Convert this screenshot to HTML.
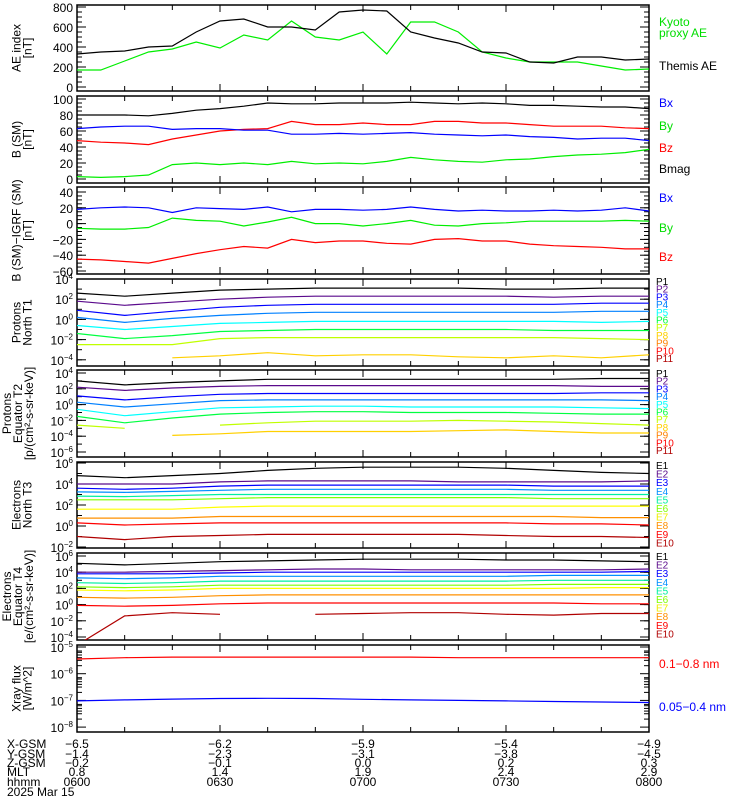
<!DOCTYPE html>
<html><head><meta charset="utf-8">
<style>
html,body{margin:0;padding:0;background:#fff;}
svg{display:block;font-family:"Liberation Sans",sans-serif;}
.t{font-size:12px;}
.s{font-size:10px;}
</style></head>
<body>
<svg id="chart" width="750" height="800" viewBox="0 0 750 800" xmlns="http://www.w3.org/2000/svg">
<g id="frames"></g><g id="series"></g><g id="labels"></g>
</svg>
<script>
// ---------- data ----------
const times5 = ["0600","0605","0610","0615","0620","0625","0630","0635","0640","0645","0650","0655","0700","0705","0710","0715","0720","0725","0730","0735","0740","0745","0750","0755","0800"];
const themisAE = [330,350,360,400,410,550,660,680,600,600,570,750,770,760,550,490,440,350,340,250,240,300,300,270,280];
const kyotoAE = [170,170,260,350,380,450,390,520,470,660,500,470,550,330,650,650,550,350,290,250,250,250,210,170,180];
const bmag = [80,80,80,79,82,86,88,91,95,94,94,95,95,95,96,95,94,95,94,92,92,91,90,90,88];
const bzSM = [48,46,45,43,50,55,60,62,63,72,68,68,70,68,68,72,72,70,70,68,66,66,66,64,63];
const bxSM = [63,65,66,66,62,63,63,61,61,56,56,57,56,57,58,56,55,54,55,53,52,50,51,51,48];
const bySM = [3,2,3,5,18,20,18,20,18,22,19,20,19,22,27,24,22,21,24,25,28,30,31,33,37];
const dBx = [18,20,21,20,14,20,19,18,21,15,18,18,17,18,21,18,16,17,16,16,17,16,17,20,16];
const dBy = [-6,-7,-7,-5,7,4,3,-3,2,8,0,0,-3,0,4,-2,-3,0,1,3,3,3,3,4,3];
const dBz = [-45,-46,-48,-50,-44,-38,-33,-29,-31,-20,-24,-22,-22,-25,-26,-20,-19,-22,-22,-26,-28,-29,-30,-32,-32];

const times10 = ["0600","0610","0620","0630","0640","0650","0700","0710","0720","0730","0740","0750","0800"];
const pT1 = [
 [2.6,2.3,2.6,2.9,3.0,3.1,3.1,3.1,3.1,3.0,3.0,3.1,3.1],
 [1.8,1.4,1.7,2.0,2.2,2.3,2.3,2.3,2.3,2.3,2.2,2.3,2.3],
 [0.9,0.4,0.8,1.2,1.4,1.5,1.5,1.5,1.5,1.5,1.5,1.6,1.6],
 [0.2,-0.3,0.1,0.4,0.6,0.7,0.7,0.7,0.7,0.7,0.7,0.8,0.8],
 [-0.6,-1.0,-0.7,-0.4,-0.3,-0.2,-0.2,-0.2,-0.2,-0.2,-0.2,-0.3,-0.2],
 [-1.4,-1.9,-1.6,-1.2,-1.1,-1.0,-1.0,-1.0,-1.0,-1.0,-1.1,-1.1,-1.1],
 [-2.5,-2.5,-2.5,-1.9,-1.8,-1.8,-1.8,-1.8,-1.8,-1.8,-1.8,-1.9,-2.0],
 [null,null,-3.8,-3.6,-3.3,-3.6,-3.5,-3.5,-3.7,-3.8,-3.6,-3.8,-3.5]
];
const pT2 = [
 [3.0,2.5,2.8,3.0,3.2,3.2,3.2,3.2,3.2,3.2,3.2,3.3,3.3],
 [2.2,1.8,2.1,2.3,2.4,2.4,2.4,2.4,2.4,2.4,2.4,2.3,2.3],
 [1.1,0.6,1.0,1.3,1.4,1.4,1.4,1.4,1.4,1.4,1.4,1.5,1.5],
 [0.3,-0.3,0.1,0.5,0.6,0.6,0.6,0.6,0.6,0.6,0.6,0.6,0.5],
 [-0.6,-1.4,-0.9,-0.4,-0.3,-0.2,-0.2,-0.3,-0.3,-0.3,-0.3,-0.4,-0.5],
 [-1.5,-2.3,-1.7,-1.2,-1.0,-0.9,-0.9,-1.0,-1.0,-1.0,-1.1,-1.2,-1.2],
 [-2.6,-3.0,null,-2.6,-2.3,-2.1,-2.1,-2.1,-2.0,-2.1,-2.2,-2.4,-2.6],
 [null,null,-3.9,-3.7,-3.4,-3.4,-3.4,-3.4,-3.3,-3.2,-3.4,-3.6,-3.6]
];
const eT3 = [
 [4.8,4.6,4.8,5.0,5.3,5.5,5.6,5.6,5.6,5.5,5.3,5.1,5.0],
 [4.0,4.0,4.0,4.2,4.3,4.3,4.3,4.3,4.2,4.2,4.2,4.2,4.3],
 [3.6,3.5,3.6,3.8,3.9,3.9,3.9,3.9,3.9,3.9,3.8,3.8,3.8],
 [3.25,3.2,3.3,3.4,3.5,3.5,3.5,3.5,3.5,3.5,3.4,3.4,3.4],
 [2.85,2.8,2.9,3.0,3.0,3.0,3.0,3.0,3.0,3.0,3.0,3.0,3.0],
 [2.5,2.5,2.5,2.6,2.7,2.7,2.7,2.7,2.7,2.7,2.6,2.6,2.6],
 [1.6,1.6,1.6,1.8,1.9,1.9,1.9,1.9,1.9,1.9,1.9,1.9,1.9],
 [0.75,0.75,0.75,0.9,0.9,0.9,0.9,0.9,0.9,0.9,0.9,0.8,0.8],
 [0.3,0.1,0.2,0.3,0.3,0.3,0.3,0.3,0.3,0.3,0.2,0.2,0.1],
 [-1.0,-1.3,-1.0,-0.9,-0.8,-0.8,-0.8,-0.8,-0.8,-0.9,-1.0,-1.0,-1.1]
];
const eT4 = [
 [5.1,4.9,5.1,5.3,5.4,5.5,5.6,5.6,5.6,5.5,5.5,5.4,5.3],
 [4.0,4.0,4.1,4.2,4.3,4.4,4.4,4.3,4.3,4.3,4.3,4.3,4.4],
 [3.8,3.8,3.8,3.9,4.0,4.0,4.0,4.0,4.0,4.0,4.0,4.0,4.1],
 [3.3,3.2,3.3,3.5,3.5,3.5,3.5,3.5,3.5,3.5,3.6,3.6,3.6],
 [2.7,2.6,2.7,2.9,2.9,2.9,2.9,2.9,2.9,2.9,3.0,3.0,3.0],
 [2.2,2.1,2.2,2.4,2.4,2.4,2.4,2.4,2.4,2.4,2.5,2.5,2.5],
 [1.8,1.7,1.8,2.0,2.0,2.0,2.0,2.0,2.0,2.0,2.0,2.1,2.1],
 [0.9,0.8,0.9,1.1,1.2,1.2,1.2,1.2,1.2,1.2,1.2,1.2,1.2],
 [-0.1,-0.2,-0.1,0.1,0.2,0.2,0.2,0.2,0.2,0.2,0.2,0.1,0.1],
 [-5.0,-1.4,-1.0,-1.2,null,-1.2,-1.1,-1.0,-1.0,-1.2,-1.3,-1.1,-1.1]
];
const xrayLong = [-5.45,-5.4,-5.38,-5.38,-5.38,-5.38,-5.38,-5.38,-5.4,-5.4,-5.4,-5.4,-5.4];
const xrayShort = [-7.02,-6.98,-6.95,-6.93,-6.92,-6.93,-6.96,-6.98,-7.0,-7.02,-7.04,-7.06,-7.08];

const pColors = ["#000000","#5a0a8c","#0000ff","#0080ff","#00ffff","#00ff40","#c0ff00","#ffd000","#ff8000","#ff0000","#b00000"];
const eColors = ["#000000","#5a0a8c","#0000ff","#0090ff","#00f0a0","#80ff00","#ffff00","#ff9000","#ff0000","#b00000"];

// ---------- layout ----------
const X0=77, X1=649;
const tops=[5,96,187,279,370,462,553,645], bots=[91,183,274,366,457,548,640,732];
const NS="http://www.w3.org/2000/svg";
function el(tag,attrs,parent){const e=document.createElementNS(NS,tag);for(const k in attrs)e.setAttribute(k,attrs[k]);parent.appendChild(e);return e;}
function tmin(s){return (+s.slice(0,2))*60+(+s.slice(2));}
function xOf(s){return X0+(tmin(s)-360)/120*(X1-X0);}
const yMaps=[
 v=>87-v*0.1, v=>179-v*0.8, v=>223.6-v*0.79,
 L=>279+(4-L)*10.1, L=>373+(4-L)*7.9, L=>463+(6-L)*10.5, L=>556+(6-L)*8.1, L=>647+(-5-L)*26.7
];
const frames=document.getElementById('frames'), series=document.getElementById('series'), labels=document.getElementById('labels');
const defs=el('defs',{},frames);

tops.forEach((t,i)=>{
  const cp=el('clipPath',{id:'cp'+i},defs);
  el('rect',{x:X0,y:t,width:X1-X0,height:bots[i]-t},cp);
  const r=el('rect',{x:X0,y:t,width:X1-X0,height:bots[i]-t,fill:'none',stroke:'#000','stroke-width':1.5},frames);
  
  
  // x ticks every 10 min
  for(let m=0;m<=120;m+=10){
    const x=X0+m/120*(X1-X0), len=(m%30===0)?7:5;
    el('line',{x1:x,x2:x,y1:t,y2:t+len,stroke:'#000'},frames);
    el('line',{x1:x,x2:x,y1:bots[i],y2:bots[i]-len,stroke:'#000'},frames);
  }
});

function yTicks(i,vals,minor){
  const f=yMaps[i];
  vals.forEach(v=>{const y=f(v);
    el('line',{x1:X0,x2:X0+9,y1:y,y2:y,stroke:'#000'},frames);
    el('line',{x1:X1,x2:X1-9,y1:y,y2:y,stroke:'#000'},frames);});
  minor.forEach(v=>{const y=f(v); if(y<tops[i]+1||y>bots[i]-1)return;
    el('line',{x1:X0,x2:X0+5,y1:y,y2:y,stroke:'#000'},frames);
    el('line',{x1:X1,x2:X1-5,y1:y,y2:y,stroke:'#000'},frames);});
}
function rng(a,b,s){const r=[];for(let v=a;v<=b+1e-9;v+=s)r.push(+v.toFixed(3));return r;}
yTicks(0,[0,200,400,600,800],rng(-50,800,50));
yTicks(1,[0,20,40,60,80,100],rng(0,100,5));
yTicks(2,[-60,-40,-20,0,20,40],rng(-60,40,5));
yTicks(3,[-4,-2,0,2,4],rng(-4,4,1));
yTicks(4,[-6,-4,-2,0,2,4],rng(-6,4,1));
yTicks(5,[-2,0,2,4,6],rng(-2,6,1));
yTicks(6,[-4,-2,0,2,4,6],rng(-4,6,1));
yTicks(7,[-8,-7,-6,-5],[-7.7,-7.5,-7.4,-7.3,-7.2,-7.15,-6.7,-6.5,-6.4,-6.3,-6.2,-6.15,-5.7,-5.5,-5.4,-5.3,-5.2,-5.15]);

// tick labels
function linLab(i,vals){vals.forEach(v=>{const t=el('text',{x:X0-4,y:yMaps[i](v)+5,'text-anchor':'end',class:'t'},labels);t.textContent=String(v).replace('-','\u2212');});}
function logLab(i,vals){vals.forEach(v=>{const t=el('text',{x:X0-4,y:yMaps[i](v)+5,'text-anchor':'end',class:'t'},labels);
  t.appendChild(document.createTextNode('10'));const s=el('tspan',{dy:-5,'font-size':'8px'},t);s.textContent=String(v).replace('-','\u2212');});}
linLab(0,[0,200,400,600,800]);linLab(1,[0,20,40,60,80,100]);linLab(2,[-60,-40,-20,0,20,40]);
logLab(3,[-4,-2,0,2,4]);logLab(4,[-6,-4,-2,0,2,4]);logLab(5,[-2,0,2,4,6]);logLab(6,[-4,-2,0,2,4,6]);logLab(7,[-8,-7,-6,-5]);

// ---------- series ----------
function drawLine(i,times,vals,color,name){
  const f=yMaps[i];let d='',pen=false;
  vals.forEach((v,k)=>{ if(v===null){pen=false;return;}
    d+=(pen?'L':'M')+xOf(times[k]).toFixed(1)+' '+f(v).toFixed(1)+' ';pen=true;});
  const p=el('path',{d:d,fill:'none',stroke:color,'stroke-width':1.2,'clip-path':'url(#cp'+i+')'},series);
  
  
}
drawLine(0,times5,kyotoAE,'#00ee00','kyoto-proxy-ae-line');
drawLine(0,times5,themisAE,'#000','themis-ae-line');
drawLine(1,times5,bmag,'#000','bmag-line');
drawLine(1,times5,bzSM,'#ff0000','bz-sm-line');
drawLine(1,times5,bxSM,'#0000ff','bx-sm-line');
drawLine(1,times5,bySM,'#00ee00','by-sm-line');
drawLine(2,times5,dBx,'#0000ff','bx-igrf-line');
drawLine(2,times5,dBy,'#00ee00','by-igrf-line');
drawLine(2,times5,dBz,'#ff0000','bz-igrf-line');
pT1.forEach((s,k)=>drawLine(3,times10,s,pColors[k],'proton-t1-p'+(k+1)));
pT2.forEach((s,k)=>drawLine(4,times10,s,pColors[k],'proton-t2-p'+(k+1)));
eT3.forEach((s,k)=>drawLine(5,times10,s,eColors[k],'electron-t3-e'+(k+1)));
eT4.forEach((s,k)=>drawLine(6,times10,s,eColors[k],'electron-t4-e'+(k+1)));
drawLine(7,times10,xrayLong,'#ff0000','xray-long-line');
drawLine(7,times10,xrayShort,'#0000ff','xray-short-line');

// ---------- legends ----------
function txt(x,y,s,color,cls,name){const t=el('text',{x:x,y:y,fill:color,class:cls||'t'},labels);t.textContent=s;
  return t;}
txt(659,26,'Kyoto','#00dd00','t','legend-kyoto');
txt(659,37,'proxy AE','#00dd00','t','legend-kyoto-2');
txt(659,70,'Themis AE','#000','t','legend-themis-ae');
txt(659,107,'Bx','#0000ff','t','legend-bx');txt(659,130,'By','#00dd00','t','legend-by');
txt(659,152,'Bz','#ff0000','t','legend-bz');txt(659,173,'Bmag','#000','t','legend-bmag');
txt(659,202,'Bx','#0000ff','t','legend-dbx');txt(659,232,'By','#00dd00','t','legend-dby');
txt(659,261,'Bz','#ff0000','t','legend-dbz');
const pLegColors=["#000","#5a0a8c","#0000ff","#0080ff","#00ffff","#00ff40","#c0ff00","#ffd000","#ff8000","#ff0000","#b00000"];
pLegColors.forEach((c,k)=>{txt(656,285+k*7.7,'P'+(k+1),c,'s','legend-t1-p'+(k+1));txt(656,377+k*7.7,'P'+(k+1),c,'s','legend-t2-p'+(k+1));});
eColors.forEach((c,k)=>{txt(656,469+k*8.6,'E'+(k+1),c==='#ffff00'?'#eeee00':c,'s','legend-t3-e'+(k+1));txt(656,560+k*8.6,'E'+(k+1),c==='#ffff00'?'#eeee00':c,'s','legend-t4-e'+(k+1));});
txt(659,668,'0.1\u22120.8 nm','#ff0000','t','legend-xray-long');
txt(659,711,'0.05\u22120.4 nm','#0000ff','t','legend-xray-short');

// ---------- y-axis titles ----------
function ytitle(i,lines,name){
  const cy=(tops[i]+bots[i])/2, g=el('g',{},labels);
  
  const n=lines.length;
  lines.forEach((s,k)=>{const x=22+(k-(n-1)/2)*11+(n===2?4:0);
    const t=el('text',{x:x,y:cy,'text-anchor':'middle',class:'t',transform:'rotate(-90 '+x+' '+cy+')'},g);t.textContent=s;});
}
ytitle(0,['AE index','[nT]'],'ae-axis-title');
ytitle(1,['B (SM)','[nT]'],'b-sm-axis-title');
ytitle(2,['B (SM)\u2212IGRF (SM)','[nT]'],'b-igrf-axis-title');
ytitle(3,['Protons','North T1'],'protons-t1-axis-title');
ytitle(4,['Protons','Equator T2','[p/(cm\u00b2-s-sr-keV)]'],'protons-t2-axis-title');
ytitle(5,['Electrons','North T3'],'electrons-t3-axis-title');
ytitle(6,['Electrons','Equator T4','[e/(cm\u00b2-s-sr-keV)]'],'electrons-t4-axis-title');
ytitle(7,['Xray flux','[W/m^2]'],'xray-axis-title');

// ---------- ephemeris footer ----------
const ephRows=["X-GSM","Y-GSM","Z-GSM","MLT","hhmm"];
const ephTimes=["0600","0630","0700","0730","0800"];
const ephX=["-6.5","-6.2","-5.9","-5.4","-4.9"];
const ephY=["-1.4","-2.3","-3.1","-3.8","-4.5"];
const ephZ=["-0.2","-0.1","0.0","0.2","0.3"];
const ephMLT=["0.8","1.4","1.9","2.4","2.9"];
const rowY=[748,758,767,776,786];
const rowVals=[ephX,ephY,ephZ,ephMLT,ephTimes];
ephRows.forEach((r,k)=>{txt(7,rowY[k],r,'#000','t','eph-label-'+r.toLowerCase());
  rowVals[k].forEach((v,j)=>{const t=el('text',{x:xOf(ephTimes[j]),y:rowY[k],'text-anchor':'middle',class:'t'},labels);t.textContent=v.replace('-','\u2212');});});
txt(7,796,'2025 Mar 15','#000','t','date-label');
</script>
</body></html>
